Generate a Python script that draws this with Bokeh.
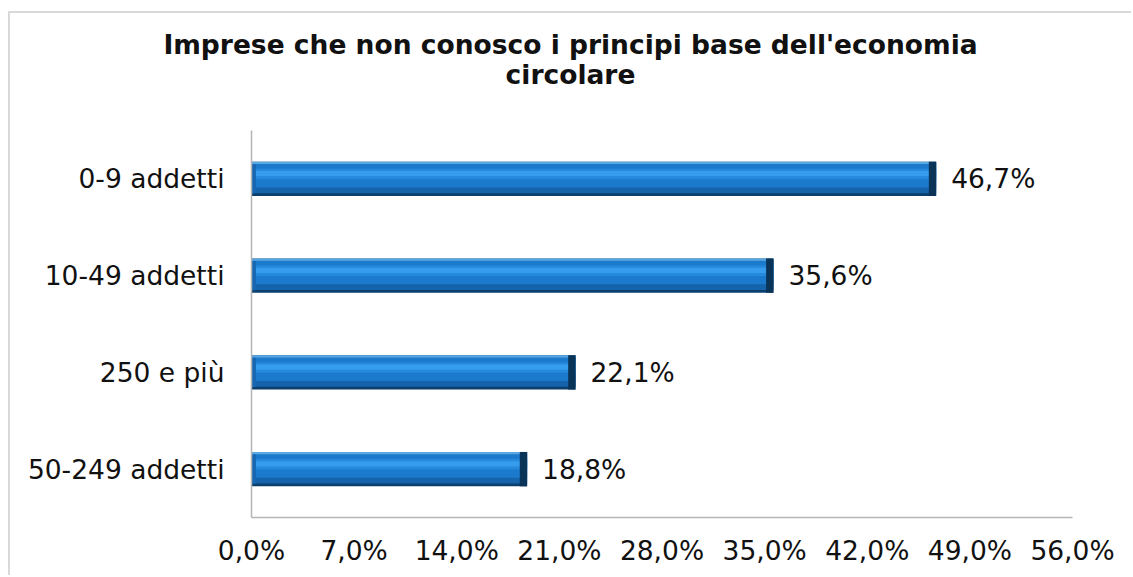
from bokeh.plotting import figure
from bokeh.models import Label, FixedTicker, CustomJSTickFormatter, ColumnDataSource, LabelSet, Range1d
from bokeh.core.properties import value
from bokeh.transform import dodge
from bokeh.embed import file_html
from bokeh.resources import INLINE

categories = ["0-9 addetti", "10-49 addetti", "250 e più", "50-249 addetti"]
values = [46.7, 35.6, 22.1, 18.8]
tick_values = [0, 7, 14, 21, 28, 35, 42, 49, 56]
title_lines = ["Imprese che non conosco i principi base dell'economia", "circolare"]

FONT = "DejaVu Sans"
FS = "26.5px"
n = len(categories)
positions = [n - 1 - i for i in range(n)]  # top to bottom

p = figure(width=1123, height=564, output_backend="svg", toolbar_location=None,
           x_range=Range1d(-16.438, 60.161), y_range=Range1d(-1.120, 4.709),
           min_border_left=0, min_border_right=0, min_border_top=0, min_border_bottom=0)
p.margin = (11, 0, 0, 8)
p.styles = {"border-left": "2px solid #d9d9d9", "border-top": "2px solid #d9d9d9"}
p.outline_line_color = None
p.grid.grid_line_color = None
p.background_fill_color = "white"
p.border_fill_color = "white"

src = ColumnDataSource(dict(
    pos=positions, val=values,
    cap=[v - 0.5 for v in values],
    zero=[0.0 for v in values],
    lcap=[0.3 for v in values],
    lbl=[("%.1f%%" % v).replace(".", ",") for v in values],
))

# glossy bar made of stacked layers
p.hbar(y="pos", right="val", left=0, height=0.355, source=src, fill_color="#0b3f6e", line_color=None)
p.hbar(y=dodge("pos", 0.012), right="val", left=0, height=0.32, source=src, fill_color="#1563ab", line_color=None)
p.hbar(y=dodge("pos", 0.035), right="val", left=0, height=0.25, source=src, fill_color="#1c7acd", line_color=None)
p.hbar(y=dodge("pos", 0.05), right="val", left=0, height=0.11, source=src, fill_color="#2589dc", line_color=None)
p.hbar(y=dodge("pos", 0.055), right="val", left=0, height=0.055, source=src, fill_color="#369ded", line_color=None)
p.hbar(y=dodge("pos", 0.165), right="val", left=0, height=0.022, source=src, fill_color="#5aa8e2", line_color=None)
p.hbar(y="pos", right="lcap", left="zero", height=0.30, source=src, fill_color="#1766b2", line_color=None)
p.hbar(y="pos", right="val", left="cap", height=0.355, source=src, fill_color="#0a3358", line_color=None)

labels = LabelSet(x="val", y="pos", text="lbl", source=src, x_offset=15,
                  text_font=value(FONT), text_font_size=FS, text_color="#111111",
                  text_baseline="middle", text_align="left")
p.add_layout(labels)

p.xaxis.ticker = FixedTicker(ticks=tick_values)
p.xaxis.formatter = CustomJSTickFormatter(code="return tick.toFixed(1).replace('.', ',') + '%';")
p.xaxis.fixed_location = -0.5
p.xaxis.bounds = (tick_values[0], tick_values[-1])
p.yaxis.ticker = FixedTicker(ticks=positions)
p.yaxis.major_label_overrides = {pos: cat for pos, cat in zip(positions, categories)}
p.yaxis.fixed_location = 0
p.yaxis.bounds = (-0.5, n - 0.5)
for ax in (p.xaxis, p.yaxis):
    ax.axis_line_color = "#b5b5b5"
    ax.axis_line_width = 1.5
    ax.major_tick_line_color = None
    ax.minor_tick_line_color = None
    ax.major_tick_out = 0
    ax.major_tick_in = 0
    ax.major_label_text_font = FONT
    ax.major_label_text_font_size = FS
    ax.major_label_text_color = "#111111"
p.xaxis.major_label_standoff = 17
p.yaxis.major_label_standoff = 27

for i, line in enumerate(title_lines):
    p.add_layout(Label(x=560, y=533 - 30 * i, x_units="screen", y_units="screen", text=line,
                       text_font=FONT, text_font_style="bold", text_font_size=FS,
                       text_align="center", text_baseline="alphabetic", text_color="#111111"))

open("out.html", "w").write(file_html(p, INLINE))
